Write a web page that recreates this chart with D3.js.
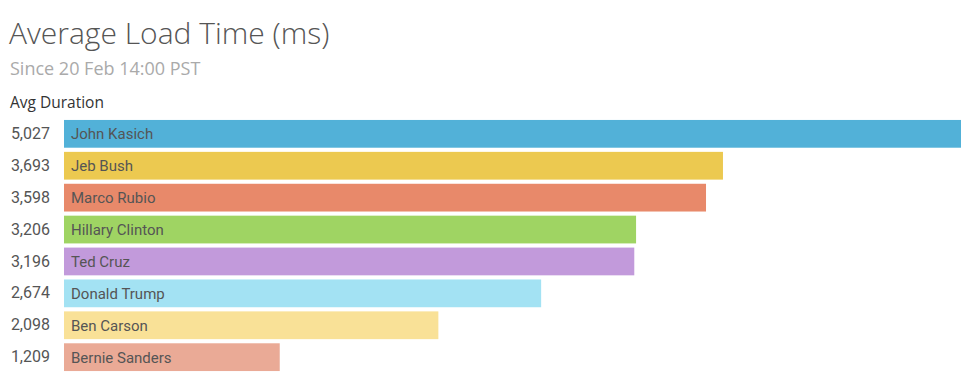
<!DOCTYPE html>
<meta charset="utf-8">
<script src="https://d3js.org/d3.v7.min.js"></script>
<style>
  body { margin: 0; background: #fff; }
  svg text { font-family: "Roboto", sans-serif; }
</style>
<div id="chart"></div>
<script>

// data
const names = ["John Kasich", "Jeb Bush", "Marco Rubio", "Hillary Clinton", "Ted Cruz", "Donald Trump", "Ben Carson", "Bernie Sanders"];
const durations = [5027, 3693, 3598, 3206, 3196, 2674, 2098, 1209];
const colors = ["#52b1d8", "#ecc950", "#e8896a", "#9fd463", "#c29adb", "#a3e2f3", "#f9e197", "#eaaa96"];

const width = 973, height = 385;
const margin = {top: 119, right: 12, bottom: 13, left: 64};

const svg = d3.select("#chart")
  .append("svg")
    .attr("width", width)
    .attr("height", height);

// titles
svg.append("text")
  .attr("x", 9).attr("y", 44)
  .style("font-family", "'Open Sans', sans-serif")
  .style("font-weight", 300)
  .style("font-size", "30px")
  .attr("fill", "#555")
  .text("Average Load Time (ms)");

svg.append("text")
  .attr("x", 10).attr("y", 75)
  .style("font-family", "'Open Sans', sans-serif")
  .style("font-size", "18px")
  .attr("fill", "#aaa")
  .text("Since 20 Feb 14:00 PST");

svg.append("text")
  .attr("x", 10).attr("y", 108)
  .style("font-family", "'Open Sans', sans-serif")
  .style("font-size", "15.5px")
  .attr("fill", "#333")
  .text("Avg Duration");

const x = d3.scaleLinear()
  .domain([0, d3.max(durations)])
  .range([margin.left, width - margin.right]);

const y = d3.scaleBand()
  .domain(names)
  .range([margin.top, height - margin.bottom])
  .paddingInner(0.13)
  .paddingOuter(0.03);

const rows = names.map((n, i) => ({name: n, value: durations[i], color: colors[i]}));

svg.selectAll(".bar")
  .data(rows)
  .join("rect")
    .attr("class", "bar")
    .attr("x", x(0))
    .attr("y", d => y(d.name))
    .attr("width", d => x(d.value) - x(0))
    .attr("height", y.bandwidth())
    .attr("fill", d => d.color);

svg.selectAll(".name")
  .data(rows)
  .join("text")
    .attr("class", "name")
    .attr("x", x(0) + 7)
    .attr("y", d => y(d.name) + y.bandwidth() / 2)
    .attr("dy", "0.36em")
    .style("font-size", "15px")
    .attr("fill", "#555")
    .text(d => d.name);

// value labels on the left (axis with the values as tick labels)
const fmt = d3.format(",");
const axis = svg.append("g")
  .attr("transform", `translate(${x(0) - 6},0)`)
  .call(d3.axisLeft(y).tickSize(0).tickPadding(8)
    .tickFormat((d, i) => fmt(durations[i])));
axis.select(".domain").remove();
axis.selectAll("text")
  .style("font-family", "'Roboto', sans-serif")
  .style("font-size", "16px")
  .attr("fill", "#555");
</script>
